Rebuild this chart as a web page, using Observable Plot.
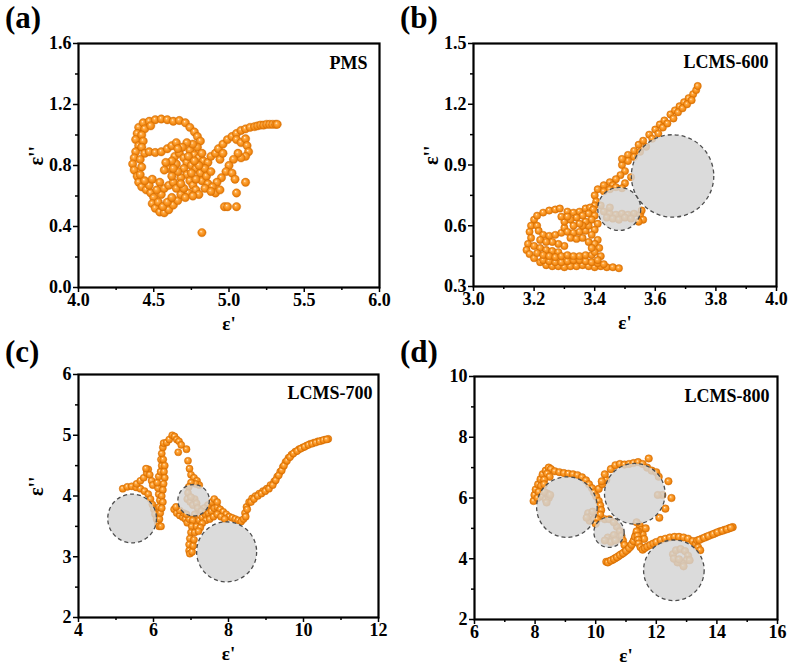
<!DOCTYPE html>
<html><head><meta charset="utf-8">
<script src="https://cdn.jsdelivr.net/npm/d3@7"></script>
<script src="https://cdn.jsdelivr.net/npm/@observablehq/plot@0.6"></script>
<style>
body{margin:0;background:#fff;}
#wrap{position:relative;width:790px;height:668px;background:#fff;font-family:"Liberation Serif","Times New Roman",serif;}
.panel{position:absolute;width:395px;height:334px;}
.lab{position:absolute;left:5px;top:0px;font-weight:bold;font-size:31px;font-family:"Liberation Serif","Times New Roman",serif;}
</style></head><body>
<svg width="0" height="0" style="position:absolute"><defs>
<radialGradient id="sphere" cx="0.5" cy="0.5" r="0.5" fx="0.38" fy="0.34">
<stop offset="0" stop-color="#fff4e2"/>
<stop offset="0.28" stop-color="#ffaa44"/>
<stop offset="0.72" stop-color="#f38a14"/>
<stop offset="1" stop-color="#d96f03"/>
</radialGradient></defs></svg>
<div id="wrap"></div>
<script>
// ---------- DATA ----------
const panelLetters = ["(a)", "(b)", "(c)", "(d)"];
const sampleNames = ["PMS", "LCMS-600", "LCMS-700", "LCMS-800"];

const pmsPts = [
 [4.40,1.05],[4.43,1.08],[4.47,1.09],[4.51,1.10],[4.55,1.105],[4.59,1.10],[4.63,1.09],[4.67,1.095],[4.71,1.08],[4.74,1.05],[4.77,1.02],[4.79,0.99],[4.81,0.96],
 [4.44,1.04],[4.48,1.06],
 [4.39,1.01],[4.38,0.97],[4.40,0.93],[4.38,0.89],[4.37,0.85],[4.36,0.81],[4.37,0.77],[4.39,0.73],[4.40,0.69],[4.42,0.66],[4.45,0.64],[4.48,0.62],
 [4.42,1.00],[4.43,0.96],[4.42,0.92],[4.44,0.88],[4.41,0.84],[4.42,0.79],[4.41,0.74],
 [4.47,0.89],[4.51,0.885],[4.55,0.89],[4.59,0.91],[4.62,0.93],[4.65,0.95],
 [4.50,0.59],[4.49,0.55],[4.51,0.52],[4.54,0.495],[4.57,0.49],[4.60,0.51],[4.63,0.54],[4.66,0.57],[4.68,0.61],[4.53,0.56],[4.56,0.53],[4.59,0.56],[4.62,0.59],[4.55,0.61],[4.52,0.64],[4.57,0.65],[4.60,0.67],[4.63,0.69],[4.65,0.65],[4.47,0.67],[4.44,0.70],[4.49,0.71],[4.54,0.69],
 [4.64,0.86],[4.67,0.88],[4.70,0.85],[4.72,0.82],[4.75,0.80],[4.78,0.78],[4.81,0.75],[4.70,0.78],[4.72,0.74],[4.74,0.70],[4.76,0.67],[4.78,0.64],[4.80,0.61],[4.68,0.72],[4.66,0.76],[4.65,0.81],[4.74,0.90],[4.77,0.87],[4.80,0.85],[4.83,0.83],[4.86,0.82],[4.79,0.92],[4.76,0.94],[4.72,0.95],[4.69,0.92],[4.82,0.88],[4.84,0.78],[4.82,0.70],[4.85,0.73],[4.88,0.76],[4.86,0.68],[4.84,0.65],[4.78,0.71],[4.75,0.75],[4.80,0.80],[4.73,0.62],[4.70,0.65],[4.68,0.68],[4.62,0.73],[4.60,0.78],[4.62,0.83],[4.71,0.59],[4.76,0.60],[4.66,0.91],[4.58,0.82],[4.57,0.77],[4.63,0.78],[4.73,0.86],[4.77,0.83],
 [4.88,0.86],[4.91,0.88],[4.93,0.91],[4.96,0.94],[4.99,0.97],[5.02,0.99],[5.05,1.01],[5.08,1.03],[5.11,1.04],[5.14,1.05],[5.17,1.055],[5.19,1.06],[5.21,1.065],[5.23,1.065],[5.25,1.07],[5.27,1.07],[5.29,1.07],[5.31,1.07],[5.32,1.07],
 [5.05,0.97],[5.08,0.95],[5.11,0.975],[5.12,0.93],[5.13,0.89],[5.11,0.86],[5.08,0.85],[5.06,0.88],[5.03,0.84],[5.00,0.80],[4.98,0.76],[4.95,0.72],[4.92,0.69],[4.89,0.66],[4.94,0.84],[4.96,0.88],[5.02,0.75],[5.04,0.71],[4.91,0.62],[4.94,0.64],[4.88,0.63],
 [5.11,0.69],[5.05,0.62],[4.97,0.53],[4.99,0.53],[5.05,0.53],[4.82,0.36]
];
const pmsCircles = [];

const lcms600Pts = [
 [3.51,0.95],[3.53,0.97],[3.545,1.00],[3.56,1.02],[3.58,1.05],[3.60,1.075],[3.615,1.10],[3.63,1.12],[3.65,1.15],[3.665,1.17],[3.68,1.19],[3.695,1.21],[3.71,1.23],[3.725,1.25],[3.735,1.27],[3.74,1.29],
 [3.53,0.94],[3.55,0.965],[3.57,0.99],[3.59,1.03],[3.61,1.055],[3.625,1.085],[3.64,1.105],[3.66,1.13],[3.675,1.16],[3.69,1.18],[3.705,1.20],[3.72,1.22],
 [3.51,0.92],[3.49,0.90],[3.50,0.87],[3.485,0.85],[3.47,0.83],[3.45,0.815],[3.43,0.80],[3.41,0.78],[3.40,0.75],[3.405,0.72],[3.40,0.70],[3.46,0.80],[3.50,0.81],[3.52,0.84],[3.49,0.93],
 [3.43,0.77],[3.45,0.78],[3.47,0.79],[3.49,0.785],
 [3.43,0.67],[3.45,0.66],[3.47,0.655],[3.49,0.66],[3.51,0.655],[3.53,0.66],[3.44,0.64],[3.46,0.635],[3.48,0.63],[3.50,0.64],[3.52,0.635],[3.42,0.70],[3.45,0.69],
 [3.55,0.655],[3.56,0.63],[3.545,0.62],[3.555,0.675],
 [3.20,0.63],[3.21,0.65],[3.23,0.665],[3.25,0.675],[3.27,0.68],[3.285,0.685],
 [3.31,0.67],[3.33,0.665],[3.35,0.67],[3.37,0.685],[3.385,0.69],[3.395,0.68],
 [3.19,0.60],[3.185,0.57],[3.19,0.54],[3.18,0.51],[3.175,0.48],[3.185,0.46],[3.20,0.44],[3.22,0.42],[3.24,0.405],
 [3.26,0.40],[3.28,0.40],[3.30,0.395],[3.32,0.40],[3.34,0.40],[3.36,0.405],[3.38,0.40],[3.40,0.395],[3.42,0.40],[3.44,0.395],[3.46,0.395],[3.48,0.39],
 [3.23,0.43],[3.25,0.425],[3.27,0.42],[3.29,0.42],[3.31,0.425],[3.33,0.43],[3.35,0.43],[3.37,0.425],[3.39,0.42],[3.41,0.415],[3.43,0.41],
 [3.21,0.60],[3.215,0.575],[3.23,0.555],[3.25,0.55],[3.27,0.555],[3.29,0.565],[3.30,0.59],[3.30,0.62],[3.29,0.645],[3.22,0.53],
 [3.31,0.57],[3.33,0.565],[3.35,0.57],[3.37,0.575],
 [3.32,0.54],[3.34,0.535],[3.36,0.54],
 [3.20,0.50],[3.22,0.49],[3.24,0.48],[3.26,0.475],[3.28,0.47],[3.21,0.465],[3.23,0.455],[3.25,0.45],[3.27,0.445],[3.29,0.45],[3.30,0.50],[3.28,0.51],[3.26,0.52],[3.24,0.52],
 [3.31,0.455],[3.33,0.45],[3.35,0.45],[3.37,0.455],[3.39,0.455],
 [3.38,0.66],[3.40,0.65],[3.39,0.63],[3.41,0.61],[3.38,0.60],[3.40,0.58],[3.39,0.555],[3.41,0.53],[3.40,0.51],[3.415,0.49],[3.40,0.47],[3.42,0.45],[3.41,0.43],[3.37,0.62],[3.36,0.60],[3.38,0.52],[3.39,0.49],[3.36,0.65],[3.34,0.64],[3.32,0.63],[3.35,0.61],[3.33,0.60],[3.31,0.645]
];
const lcms600Circles = [[3.481,0.683,0.071],[3.657,0.846,0.136]]; // centre x, centre y, radius in ε' units

const lcms700Pts = [
 [5.18,4.12],[5.30,4.15],[5.42,4.16],[5.54,4.14],[5.65,4.12],[5.76,4.08],[5.86,4.03],[5.92,3.95],[5.97,3.86],[6.01,3.78],[6.04,3.70],[6.08,3.62],[6.12,3.55],[6.15,3.50],
 [5.55,4.20],[5.65,4.25],[5.74,4.30],[5.82,4.38],[5.86,4.44],[5.80,4.45],[5.90,4.35],[5.95,4.25],[5.98,4.18],
 [6.16,3.62],[6.18,3.72],[6.15,3.82],[6.17,3.93],[6.14,4.03],[6.12,4.13],[6.10,4.22],[6.14,4.32],[6.19,4.40],[6.22,4.50],[6.20,4.60],[6.22,4.70],[6.25,4.80],[6.27,4.87],[6.35,4.88],[6.42,4.93],[6.50,5.00],[6.56,4.98],[6.62,4.93],[6.68,4.90],[6.74,4.84],
 [6.26,4.60],[6.30,4.50],[6.28,4.40],[6.30,4.30],[6.27,4.20],[6.25,4.10],[6.22,4.00],[6.25,3.90],[6.22,3.80],[6.20,3.50],
 [6.66,4.72],[6.88,4.77],[6.92,4.58],[6.96,4.45],[7.00,4.35],[7.08,4.30],[7.16,4.25],[7.22,4.18],[7.12,4.20],[7.00,4.22],[6.94,4.15],[6.92,4.05],[6.90,3.95],
 [6.98,3.90],[7.05,3.85],[7.10,3.95],[7.15,3.88],[7.00,3.98],[7.18,3.80],
 [6.55,3.78],[6.62,3.72],[6.70,3.68],[6.78,3.65],[6.85,3.62],[6.90,3.56],[6.95,3.62],[6.80,3.72],[6.70,3.76],[6.60,3.82],[6.88,3.70],
 [7.10,3.70],[7.05,3.60],[7.02,3.50],[7.00,3.40],[6.97,3.30],[6.95,3.20],[6.95,3.10],[6.97,3.05],[7.03,3.08],[7.06,3.18],[7.08,3.28],[7.10,3.40],[7.15,3.50],
 [7.22,3.60],[7.30,3.65],[7.38,3.70],[7.46,3.72],[7.54,3.75],[7.62,3.80],[7.70,3.82],[7.78,3.78],[7.86,3.74],[7.94,3.70],[8.02,3.66],[8.10,3.64],[8.18,3.62],[8.26,3.60],[8.34,3.58],[7.45,3.85],[7.55,3.90],[7.62,3.95],[7.70,3.90],[7.35,3.80],[7.28,3.75],[7.40,3.60],[7.50,3.62],[7.60,3.66],[7.70,3.70],[7.80,3.66],[7.90,3.62],[7.30,3.55],[7.25,3.48],[7.20,3.42],
 [8.40,3.62],[8.44,3.72],[8.48,3.82],[8.55,3.90],[8.63,3.96],[8.72,4.00],[8.82,4.04],[8.92,4.08],[9.02,4.12],[9.12,4.18],[9.22,4.24],[9.30,4.32],[9.38,4.40],[9.45,4.48],[9.52,4.56],[9.60,4.63],[9.68,4.68],[9.78,4.73],[9.88,4.77],[9.98,4.80],[10.08,4.83],[10.18,4.86],[10.28,4.88],[10.38,4.90],[10.48,4.91],[10.58,4.93],[10.66,4.94],
 [8.46,3.66],[8.50,3.78],[8.60,3.90],[8.68,3.95],[8.78,4.00],[8.88,4.04],[8.98,4.08],[9.08,4.12],[9.18,4.18],[9.26,4.26],[9.34,4.34],[9.42,4.42],[9.48,4.50],[9.56,4.58],[9.64,4.64],[9.73,4.70],[9.83,4.74],[9.93,4.78],[10.03,4.81],[10.13,4.84],[10.23,4.86],[10.33,4.88],[10.43,4.90],[10.53,4.92],[10.62,4.93]
];
const lcms700Circles = [[5.43,3.63,0.65],[7.07,3.93,0.42],[7.95,3.08,0.80]];

const lcms800Pts = [
 [7.95,5.90],[7.98,6.10],[8.02,6.28],[8.10,6.45],[8.18,6.62],[8.25,6.78],[8.35,6.90],[8.45,7.00],[8.52,6.95],[8.40,6.80],[8.48,6.70],[8.30,6.60],[8.20,6.40],[8.12,6.20],[8.08,6.00],[8.30,6.45],
 [8.65,6.88],[8.80,6.85],[8.95,6.82],[9.10,6.80],[9.25,6.78],[9.40,6.75],[9.55,6.68],[9.68,6.58],[9.78,6.45],[9.88,6.32],[9.95,6.18],
 [8.25,6.05],[8.35,5.95],[8.45,6.00],[8.40,6.15],[8.30,6.20],[8.50,6.10],[8.38,5.85],
 [9.75,5.50],[9.85,5.40],[9.80,5.25],[9.90,5.55],[9.70,5.35],[9.95,5.30],
 [10.02,6.05],[10.10,5.90],[10.15,5.75],[10.18,5.60],[10.10,6.30],[10.22,6.45],[10.35,6.60],[10.30,6.78],[10.20,6.55],[10.15,5.45],[10.05,5.30],[10.00,5.15],
 [10.50,6.95],[10.65,7.08],[10.80,7.12],[10.95,7.10],[11.10,7.12],[11.25,7.15],[11.40,7.18],[11.55,7.12],[11.75,7.30],[11.70,7.00],[11.85,6.90],[12.00,6.85],[12.08,6.70],
 [12.40,6.55],[12.50,6.00],[12.30,5.65],[12.20,6.10],[12.10,5.35],[12.05,6.10],
 [11.45,5.10],[11.50,4.95],[11.55,4.80],[11.60,4.65],[11.40,4.90],[11.35,5.20],[11.65,5.00],
 [10.70,5.05],[10.80,4.90],[10.85,4.75],[10.90,4.60],[10.95,4.45],[10.30,5.30],[10.45,5.30],[10.60,5.20],
 [10.40,4.70],[10.55,4.65],[10.60,4.78],[10.50,4.55],[10.65,4.60],[10.30,4.60],
 [10.35,3.90],[10.45,3.92],[10.55,3.96],[10.65,4.02],[10.75,4.08],[10.85,4.15],[10.95,4.22],[11.05,4.30],[11.15,4.40],[11.22,4.52],[11.28,4.65],[11.32,4.78],[11.35,4.90],
 [10.40,3.88],[10.50,3.94],[10.60,3.99],[10.70,4.05],[10.80,4.12],[10.90,4.18],[11.00,4.26],[11.10,4.35],[11.18,4.46],[11.25,4.58],[11.30,4.72],
 [11.38,4.75],[11.40,4.62],[11.42,4.50],[11.48,4.38],[11.55,4.30],
 [11.62,4.35],[11.70,4.40],[11.80,4.45],[11.90,4.50],[12.00,4.55],[12.15,4.62],[12.30,4.66],[12.45,4.70],[12.60,4.72],[12.75,4.72],[12.90,4.70],[13.05,4.66],[13.20,4.58],[13.30,4.48],[13.38,4.38],[13.45,4.28],
 [13.35,4.60],[13.50,4.66],[13.65,4.72],[13.80,4.78],[13.95,4.84],[14.10,4.90],[14.25,4.95],[14.40,5.00],[14.52,5.04],[13.42,4.62],[13.58,4.69],[13.72,4.75],[13.88,4.81],[14.02,4.87],[14.18,4.92],[14.33,4.97],[14.46,5.02],
 [12.55,4.15],[12.65,4.28],[12.80,4.32],[12.95,4.25],[13.05,4.10],[13.00,3.95],[12.85,3.85],[12.70,3.88],[12.58,4.00],[13.10,3.95],[12.90,3.75],[12.75,3.98]
];
const lcms800Circles = [[9.05,5.70,1.0],[11.29,6.14,1.0],[10.44,4.87,0.5],[12.58,3.62,1.0]];

const xTicksA = [4.0,4.5,5.0,5.5,6.0], xMinorA = [4.25,4.75,5.25,5.75];
const yTicksA = [0.0,0.4,0.8,1.2,1.6], yMinorA = [0.2,0.6,1.0,1.4];
const xTicksB = [3.0,3.2,3.4,3.6,3.8,4.0], xMinorB = [3.1,3.3,3.5,3.7,3.9];
const yTicksB = [0.3,0.6,0.9,1.2,1.5], yMinorB = [0.45,0.75,1.05,1.35];
const xTicksC = [4,6,8,10,12], xMinorC = [5,7,9,11];
const yTicksC = [2,3,4,5,6], yMinorC = [2.5,3.5,4.5,5.5];
const xTicksD = [6,8,10,12,14,16], xMinorD = [7,9,11,13,15];
const yTicksD = [2,4,6,8,10], yMinorD = [3,5,7,9];

// ---------- DRAW ----------
const W = 395, H = 334;
const FONT = '"Liberation Serif","Times New Roman",serif';

function drawPanel(o) {
  const [mt, mr, mb, ml] = o.m;
  const innerW = W - ml - mr;
  const kx = innerW / (o.xTicks[o.xTicks.length-1] - o.xTicks[0]);
  const marks = [
    Plot.axisX({ticks: o.xTicks, tickFormat: o.fmt, tickSize: 5, tickPadding: 1, strokeWidth: 1.5, label: null}),
    Plot.axisX({ticks: o.xMinor, tickSize: 3, text: null, label: null, strokeWidth: 1.5}),
    Plot.axisY({ticks: o.yTicks, tickFormat: o.fmt, tickSize: 5, tickPadding: 2, strokeWidth: 1.5, label: null}),
    Plot.axisY({ticks: o.yMinor, tickSize: 3, text: null, label: null, strokeWidth: 1.5}),
    Plot.dot(o.pts, {x: d => d[0], y: d => d[1], r: o.dotR, fill: "url(#sphere)", stroke: "#d97204", strokeWidth: 0.4}),
    ...o.circles.map(c => Plot.dot([c], {x: d => d[0], y: d => d[1], r: c[2] * kx, fill: "#d3d3d3", fillOpacity: 0.82, stroke: "#4d4d4d", strokeWidth: 1.3, strokeDasharray: "4,3"})),
    Plot.text([o.name], {text: d => d, frameAnchor: "top-right", textAnchor: "end", lineAnchor: "middle", dx: o.nameDx, dy: o.nameDy, fontSize: 18, fontWeight: "bold"}),
    Plot.text(["ε'"], {text: d => d, frameAnchor: "bottom", lineAnchor: "middle", dy: 36, fontSize: 19, fontWeight: "bold"}),
    Plot.frame({stroke: "#000", strokeWidth: 2.2})
  ];
  if (o.yLabel) marks.push(Plot.text(["ε''"], {text: d => d, frameAnchor: "left", rotate: -90, lineAnchor: "middle", dx: -42, fontSize: 20, fontWeight: "bold"}));
  const chart = Plot.plot({
    width: W, height: H,
    marginTop: mt, marginRight: mr, marginBottom: mb, marginLeft: ml,
    x: {domain: [o.xTicks[0], o.xTicks[o.xTicks.length-1]]},
    y: {domain: [o.yTicks[0], o.yTicks[o.yTicks.length-1]]},
    style: {fontFamily: FONT, fontSize: "18px", fontWeight: "bold", color: "#000", background: "transparent", overflow: "visible"},
    marks
  });
  const div = document.createElement("div");
  div.className = "panel";
  div.style.left = o.left + "px";
  div.style.top = o.top + "px";
  div.appendChild(chart);
  const lab = document.createElement("div");
  lab.className = "lab";
  lab.textContent = o.letter;
  div.appendChild(lab);
  document.getElementById("wrap").appendChild(div);
}

drawPanel({left: 0, top: 0, letter: panelLetters[0], name: sampleNames[0], pts: pmsPts, circles: pmsCircles,
  xTicks: xTicksA, xMinor: xMinorA, yTicks: yTicksA, yMinor: yMinorA, fmt: d3.format(".1f"),
  m: [43, 16, 47, 78], dotR: 4.2, nameDx: -12, nameDy: 20, yLabel: true});
drawPanel({left: 395, top: 0, letter: panelLetters[1], name: sampleNames[1], pts: lcms600Pts, circles: lcms600Circles,
  xTicks: xTicksB, xMinor: xMinorB, yTicks: yTicksB, yMinor: yMinorB, fmt: d3.format(".1f"),
  m: [43, 14, 48, 78], dotR: 3.7, nameDx: -8, nameDy: 19, yLabel: true});
drawPanel({left: 0, top: 334, letter: panelLetters[2], name: sampleNames[2], pts: lcms700Pts, circles: lcms700Circles,
  xTicks: xTicksC, xMinor: xMinorC, yTicks: yTicksC, yMinor: yMinorC, fmt: d3.format("d"),
  m: [40, 17, 51, 78], dotR: 3.6, nameDx: -6, nameDy: 19, yLabel: true});
drawPanel({left: 395, top: 334, letter: panelLetters[3], name: sampleNames[3], pts: lcms800Pts, circles: lcms800Circles,
  xTicks: xTicksD, xMinor: xMinorD, yTicks: yTicksD, yMinor: yMinorD, fmt: d3.format("d"),
  m: [42, 13, 49, 79], dotR: 3.8, nameDx: -8, nameDy: 20, yLabel: false});
</script></body></html>
